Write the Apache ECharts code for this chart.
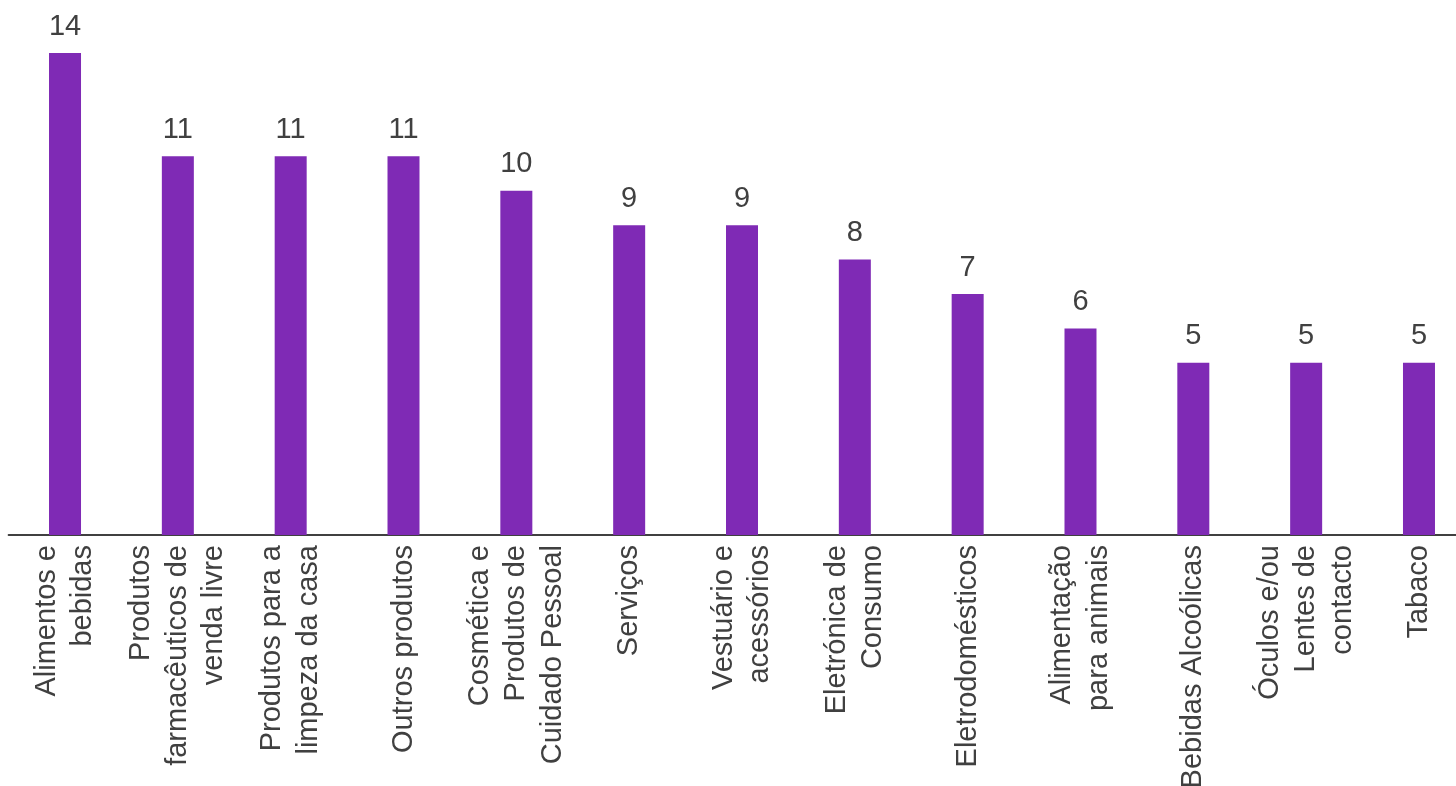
<!DOCTYPE html>
<html>
<head>
<meta charset="utf-8">
<style>
  html, body { margin: 0; padding: 0; background: #ffffff; }
  #chart { width: 1456px; height: 786px; }
</style>
<script src="https://cdn.jsdelivr.net/npm/echarts@6/dist/echarts.min.js"></script>
</head>
<body>
<div id="chart"></div>
<script>
// Categories (line breaks as they wrap under the axis)
const categories = [
  'Alimentos e\nbebidas',
  'Produtos\nfarmacêuticos de\nvenda livre',
  'Produtos para a\nlimpeza da casa',
  'Outros produtos',
  'Cosmética e\nProdutos de\nCuidado Pessoal',
  'Serviços',
  'Vestuário e\nacessórios',
  'Eletrónica de\nConsumo',
  'Eletrodomésticos',
  'Alimentação\npara animais',
  'Bebidas Alcoólicas',
  'Óculos e/ou\nLentes de\ncontacto',
  'Tabaco'
];

// Values per category
const values = [14, 11, 11, 11, 10, 9, 9, 8, 7, 6, 5, 5, 5];

const chart = echarts.init(document.getElementById('chart'), null, { renderer: 'canvas' });

chart.setOption({
  animation: false,
  backgroundColor: '#ffffff',
  grid: {
    left: 8.6,
    top: 53,
    width: 1466.8,
    height: 482,
    containLabel: false,
    outerBoundsMode: 'none'
  },
  xAxis: {
    type: 'category',
    data: categories,
    axisLine: { show: true, lineStyle: { color: '#404040', width: 2 } },
    axisTick: { show: false },
    axisLabel: {
      rotate: 90,
      interval: 0,
      margin: 10,
      color: '#404040',
      fontFamily: 'Liberation Sans, Arial, sans-serif',
      fontSize: 29,
      lineHeight: 36.5
    }
  },
  yAxis: {
    type: 'value',
    min: 0,
    max: 14,
    show: false,
    splitLine: { show: false }
  },
  series: [{
    type: 'bar',
    data: values,
    barWidth: 32,
    itemStyle: { color: '#7F2AB5' },
    label: {
      show: true,
      position: 'top',
      distance: 12,
      color: '#404040',
      fontFamily: 'Liberation Sans, Arial, sans-serif',
      fontSize: 29
    }
  }]
});
</script>
</body>
</html>
